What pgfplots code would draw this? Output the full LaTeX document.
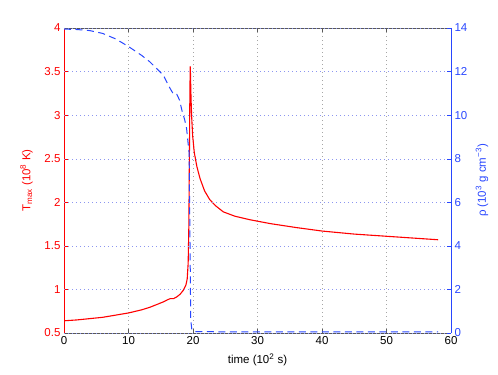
\documentclass[border=0pt]{standalone}
\usepackage{fontspec}
\setmainfont{Liberation Sans}
\usepackage{pgfplots}
\pgfplotsset{compat=1.18}
\usetikzlibrary{calc}
\definecolor{mred}{RGB}{255,0,0}
\definecolor{mblue}{RGB}{40,70,255}
\definecolor{gridblue}{RGB}{140,150,240}

\pgfplotsset{
  twin/.style={
    scale only axis, width=387pt, height=305pt,
    xmin=0, xmax=60,
    /pgf/number format/assume math mode=true,
    tick label style={font=\fontsize{11.5}{13}\selectfont},
    label style={font=\fontsize{11.5}{13}\selectfont},
    major tick length=4pt,
  }
}

\begin{document}
\begin{tikzpicture}
\begin{axis}[twin,
  ymin=0.5, ymax=4, ytick={0.5,1,...,4}, xtick={0,10,...,60},
  axis y line*=left,
  axis line style={black!65},
  y axis line style={mred},
  xtick style={black!65},
  ytick style={mred},
  yticklabel style={mred},
  xmajorgrids,
  x grid style={gray!70, dash pattern=on 1pt off 3pt},
  xlabel={time (10\textsuperscript{2} s)},
  ylabel={\color{mred}T\textsubscript{max} (10\textsuperscript{8} K)},
  xlabel style={at={(axis description cs:0.5,-0.088)}, anchor=center},
  ylabel style={at={(axis description cs:-0.097,0.5)}, anchor=center},
]
\addplot[mred, line width=1.1pt] coordinates {
 (0,0.64) (2,0.65) (4,0.665) (6,0.68) (8,0.705) (10,0.73) (12,0.765)
 (13.3,0.795) (14.5,0.83) (15.5,0.86) (16,0.88) (16.5,0.895) (17,0.895)
 (17.5,0.915) (18,0.945) (18.5,0.99) (18.9,1.05) (19.1,1.12) (19.25,1.3)
 (19.35,1.7) (19.45,2.6) (19.52,3.3) (19.58,3.56) (19.63,3.4) (19.7,3.18)
 (19.8,2.97) (19.95,2.76) (20.2,2.57) (20.6,2.41) (21.1,2.27) (21.8,2.13)
 (22.6,2.03) (23.5,1.96) (24.7,1.89) (26.5,1.84) (28.8,1.80) (32,1.755)
 (36,1.71) (40,1.67) (45,1.635) (50,1.61) (55,1.585) (58,1.57)
};
\coordinate (bl) at (rel axis cs:0,0);
\coordinate (tr) at (rel axis cs:1,1);
\end{axis}
\begin{axis}[twin,
  ymin=0, ymax=14, ytick={0,2,...,14},
  axis y line*=right, axis x line=none,
  y axis line style={mblue},
  ytick style={mblue},
  yticklabel style={mblue},
  ymajorgrids,
  y grid style={gridblue, dash pattern=on 1pt off 3pt},
  ylabel={\color{mblue}ρ (10\textsuperscript{3} g cm\textsuperscript{−3})},
  ylabel style={at={(axis description cs:1.08,0.5)}, anchor=center},
]
\addplot[mblue, line width=1pt, dash pattern=on 7pt off 4.5pt] coordinates {
 (0,13.95) (2,13.93) (4,13.88) (6,13.75) (8,13.5) (10,13.15) (12,12.75)
 (13.3,12.45) (15.4,11.83) (16.4,11.25) (17,10.95) (17.5,10.95) (17.9,10.7)
 (18.3,10.2) (18.7,9.8) (19.0,9.4) (19.4,8.25) (19.5,5.2) (19.65,0.6)
 (19.8,0.2) (20.05,0.07) (25,0.05) (40,0.05) (58,0.05)
};
\end{axis}
\pgfresetboundingbox
\path[use as bounding box] ($(bl)+(-64pt,-42pt)$) rectangle ($(tr)+(47pt,28pt)$);
\end{tikzpicture}
\end{document}
